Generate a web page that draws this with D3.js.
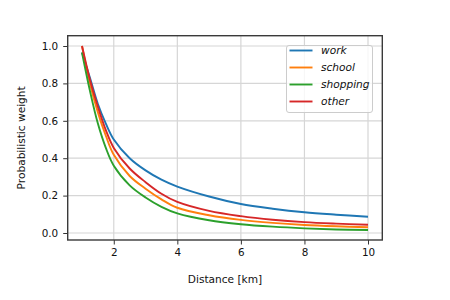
<!DOCTYPE html>
<html lang="en">
<head>
    <meta charset="utf-8">
    <title>Probabilistic weight by distance</title>
    <script type="text/javascript" src="https://d3js.org/d3.v7.min.js"></script>
    <style type="text/css">
        body { margin: 0; background: white; }
        text { font-family: "DejaVu Sans", sans-serif; }
    </style>
</head>
<body>
<script type="text/javascript">
    // values
    var distance = [1, 1.25, 1.5, 1.75, 2, 2.5, 3, 3.5, 4, 5, 6, 7, 8, 9, 10];
    var work     = [0.965, 0.83, 0.69, 0.585, 0.50, 0.40, 0.335, 0.285, 0.248, 0.195, 0.155, 0.130, 0.111, 0.098, 0.087];
    var school   = [1.0, 0.80, 0.645, 0.52, 0.418, 0.305, 0.237, 0.180, 0.135, 0.095, 0.070, 0.054, 0.043, 0.036, 0.031];
    var shopping = [0.965, 0.76, 0.585, 0.455, 0.36, 0.255, 0.190, 0.140, 0.105, 0.068, 0.047, 0.034, 0.025, 0.019, 0.016];
    var other    = [1.0, 0.82, 0.675, 0.55, 0.455, 0.345, 0.272, 0.210, 0.166, 0.118, 0.090, 0.071, 0.058, 0.050, 0.044];

    var xTicks = [2, 4, 6, 8, 10];
    var yTicks = [0, 0.2, 0.4, 0.6, 0.8, 1.0];

    var series = [
        {name: "work", values: work, color: "#1f77b4"},
        {name: "school", values: school, color: "#ff7f0e"},
        {name: "shopping", values: shopping, color: "#2ca02c"},
        {name: "other", values: other, color: "#d62728"}
    ];

    var w = 450;
    var h = 300;
    var plotL = 67.7, plotR = 382.3, plotT = 35.7, plotB = 240;

    var svg = d3.select("body").append("svg")
            .attr("width", w)
            .attr("height", h);

    var x = d3.scaleLinear().domain([0.55, 10.45]).range([plotL, plotR]);
    var y = d3.scaleLinear().domain([-0.0374, 1.0551]).range([plotB, plotT]);

    // grid
    svg.append("g").selectAll("line")
            .data(xTicks)
            .enter()
            .append("line")
            .attr("x1", function (d) { return x(d); })
            .attr("x2", function (d) { return x(d); })
            .attr("y1", plotT)
            .attr("y2", plotB)
            .attr("stroke", "#d6d6d6")
            .attr("stroke-width", 1.2);

    svg.append("g").selectAll("line")
            .data(yTicks)
            .enter()
            .append("line")
            .attr("y1", function (d) { return y(d); })
            .attr("y2", function (d) { return y(d); })
            .attr("x1", plotL)
            .attr("x2", plotR)
            .attr("stroke", "#d6d6d6")
            .attr("stroke-width", 1.2);

    // axes
    var xAxis = d3.axisBottom(x).tickValues(xTicks).tickSize(4.5).tickPadding(4)
            .tickFormat(d3.format("d"));
    var yAxis = d3.axisLeft(y).tickValues(yTicks).tickSize(4.5).tickPadding(5)
            .tickFormat(d3.format(".1f"));

    var gx = svg.append("g").attr("transform", "translate(0," + plotB + ")").call(xAxis);
    var gy = svg.append("g").attr("transform", "translate(" + plotL + ",0)").call(yAxis);
    [gx, gy].forEach(function (g) {
        g.select(".domain").remove();
        g.selectAll(".tick line").attr("stroke", "#333").attr("stroke-width", 1);
        g.selectAll(".tick text")
                .attr("font-family", "DejaVu Sans, sans-serif")
                .attr("font-size", "10.4px")
                .attr("fill", "#111");
    });

    // lines
    var line = d3.line()
            .x(function (d, i) { return x(distance[i]); })
            .y(function (d) { return y(d); })
            .curve(d3.curveCatmullRom.alpha(0.5));

    svg.append("g").selectAll("path")
            .data(series)
            .enter()
            .append("path")
            .attr("d", function (s) { return line(s.values); })
            .attr("fill", "none")
            .attr("stroke", function (s) { return s.color; })
            .attr("stroke-width", 1.9);

    // frame
    svg.append("rect")
            .attr("x", plotL)
            .attr("y", plotT)
            .attr("width", plotR - plotL)
            .attr("height", plotB - plotT)
            .attr("fill", "none")
            .attr("stroke", "#3a3a3a")
            .attr("stroke-width", 1.4);

    // axis labels
    svg.append("text")
            .attr("x", (plotL + plotR) / 2)
            .attr("y", 283)
            .attr("text-anchor", "middle")
            .attr("font-size", "10.6px")
            .attr("fill", "#111")
            .text("Distance [km]");

    svg.append("text")
            .attr("transform", "translate(25," + ((plotT + plotB) / 2) + ") rotate(-90)")
            .attr("text-anchor", "middle")
            .attr("font-size", "10.6px")
            .attr("fill", "#111")
            .text("Probabilistic weight");

    // legend
    var legend = svg.append("g").attr("transform", "translate(286.5,45.5)");
    legend.append("rect")
            .attr("width", 86)
            .attr("height", 67)
            .attr("rx", 2.5)
            .attr("fill", "white")
            .attr("fill-opacity", 0.8)
            .attr("stroke", "#cccccc")
            .attr("stroke-width", 1);

    var item = legend.selectAll("g.item")
            .data(series)
            .enter()
            .append("g")
            .attr("class", "item")
            .attr("transform", function (s, i) { return "translate(0," + (5 + i * 17) + ")"; });

    item.append("line")
            .attr("x1", 3)
            .attr("x2", 26)
            .attr("stroke", function (s) { return s.color; })
            .attr("stroke-width", 1.9);

    item.append("text")
            .attr("x", 34.5)
            .attr("dy", "0.35em")
            .attr("font-size", "10.6px")
            .attr("font-style", "italic")
            .attr("fill", "#111")
            .text(function (s) { return s.name; });
</script>
</body>
</html>
